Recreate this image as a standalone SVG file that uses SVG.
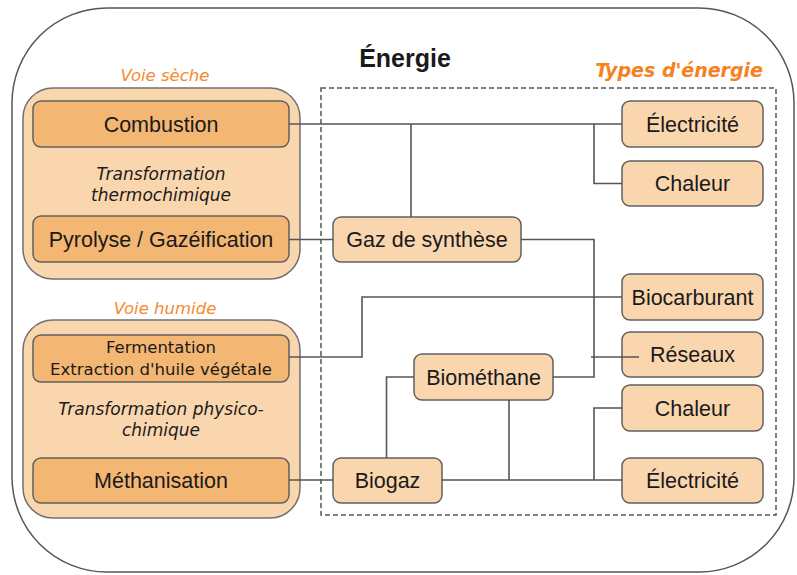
<svg xmlns="http://www.w3.org/2000/svg" width="797" height="575" viewBox="0 0 797 575">
<style>
.grp{fill:#fad6ae;stroke:#707070;stroke-width:1.5}
.dark{fill:#f4b673;stroke:#606060;stroke-width:1.5}
.light{fill:#fad6ae;stroke:#606060;stroke-width:1.5}
.lbl{font-family:"Liberation Sans",Arial,sans-serif;font-size:21.5px;fill:#1a1a1a;text-anchor:middle}
.sm{font-family:"DejaVu Sans",Verdana,sans-serif;font-size:16.5px;fill:#1a1a1a;text-anchor:middle}
.it{font-family:"DejaVu Sans",Verdana,sans-serif;font-style:italic;font-size:17px;fill:#1a1a1a;text-anchor:middle}
.or{font-family:"DejaVu Sans",Verdana,sans-serif;font-style:italic;font-size:16.5px;fill:#f58a2e;text-anchor:middle}
.conn path{fill:none;stroke:#555;stroke-width:1.6}
</style>
<rect id="outer" x="12" y="8" width="782" height="564" rx="95" ry="95" fill="#fff" stroke="#555" stroke-width="1.5"/>
<text x="405" y="67" font-family="Liberation Sans,Arial,sans-serif" font-weight="bold" font-size="25" fill="#1a1a1a" text-anchor="middle">Énergie</text>
<text x="763" y="77" font-family="DejaVu Sans,Verdana,sans-serif" font-style="italic" font-weight="bold" font-size="19" fill="#f58220" text-anchor="end">Types d'énergie</text>
<rect id="types" x="321" y="88" width="455" height="427" fill="none" stroke="#555" stroke-width="1.5" stroke-dasharray="5,3"/>

<g id="voie-seche">
<text class="or" x="165" y="81">Voie sèche</text>
<rect class="grp" x="23" y="88" width="277" height="191" rx="30"/>
<text class="it" x="161" y="180">Transformation</text>
<text class="it" x="161" y="201">thermochimique</text>
</g>
<g id="voie-humide">
<text class="or" x="165" y="314">Voie humide</text>
<rect class="grp" x="23" y="320" width="277" height="198" rx="30"/>
<text class="it" x="161" y="415">Transformation physico-</text>
<text class="it" x="161" y="436">chimique</text>
</g>

<g id="combustion"><rect class="dark" x="33" y="101" width="256" height="46" rx="8"/><text class="lbl" x="161" y="131.5">Combustion</text></g>
<g id="pyrolyse"><rect class="dark" x="33" y="216" width="256" height="46" rx="8"/><text class="lbl" x="161" y="246.5">Pyrolyse / Gazéification</text></g>
<g id="fermentation"><rect class="dark" x="33" y="335" width="256" height="47" rx="8"/><text class="sm" x="161" y="353">Fermentation</text><text class="sm" x="161" y="375">Extraction d'huile végétale</text></g>
<g id="methanisation"><rect class="dark" x="33" y="458" width="256" height="45" rx="8"/><text class="lbl" x="161" y="488">Méthanisation</text></g>

<g id="gaz-synthese"><rect class="light" x="333" y="217" width="188" height="45" rx="8"/><text class="lbl" x="427" y="247">Gaz de synthèse</text></g>
<g id="biomethane"><rect class="light" x="414" y="354" width="139" height="46" rx="8"/><text class="lbl" x="483.5" y="384.5">Biométhane</text></g>
<g id="biogaz"><rect class="light" x="333" y="458" width="109" height="45" rx="8"/><text class="lbl" x="387.5" y="488">Biogaz</text></g>

<g id="electricite1"><rect class="light" x="622" y="101" width="141" height="46" rx="8"/><text class="lbl" x="692.5" y="131.5">Électricité</text></g>
<g id="chaleur1"><rect class="light" x="622" y="161" width="141" height="45" rx="8"/><text class="lbl" x="692.5" y="191">Chaleur</text></g>
<g id="biocarburant"><rect class="light" x="622" y="274" width="141" height="46" rx="8"/><text class="lbl" x="692.5" y="304.5">Biocarburant</text></g>
<g id="reseaux"><rect class="light" x="622" y="332" width="141" height="45" rx="8"/><text class="lbl" x="692.5" y="362">Réseaux</text></g>
<g id="chaleur2"><rect class="light" x="622" y="385" width="141" height="46" rx="8"/><text class="lbl" x="692.5" y="415.5">Chaleur</text></g>
<g id="electricite2"><rect class="light" x="622" y="458" width="141" height="45" rx="8"/><text class="lbl" x="692.5" y="488">Électricité</text></g>

<g class="conn" id="connectors">
<path d="M289 124H622"/>
<path d="M411 124V217"/>
<path d="M594 124V183.5H622"/>
<path d="M289 239.5H333"/>
<path d="M521 239.5H594V377H553"/>
<path d="M591 357H639"/>
<path d="M289 357H362V297H622"/>
<path d="M289 480H333"/>
<path d="M386.5 458V377H414"/>
<path d="M442 480H622"/>
<path d="M509 400V480"/>
<path d="M594 480V408H622"/>
</g>
</svg>
